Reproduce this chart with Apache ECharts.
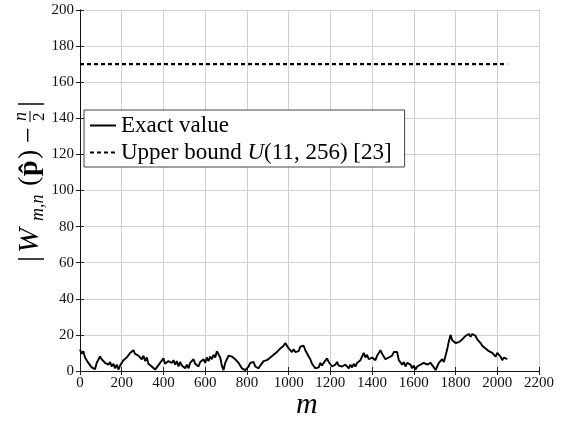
<!DOCTYPE html>
<html>
<head>
  <meta charset="utf-8">
  <title>Exact value vs upper bound</title>
  <style>
    html, body { margin: 0; padding: 0; background: #fff; }
    #chart { width: 578px; height: 422px; }
  </style>
</head>
<body>
  <div id="chart"></div>
  <script src="https://cdn.jsdelivr.net/npm/echarts@6/dist/echarts.min.js"></script>
  <script>
  // sampled every 8 steps of m, from 0 to 2048
  const mStep = 8;
  const exactValue = [
    12, 9.5, 11, 7.5, 8, 4.5, 5, 2, 2.5, 1, 4.5, 5, 8, 6.5, 7, 4.5,
    5, 3.5, 5, 2.5, 4, 1.5, 3.5, 0.8, 3, 3, 6, 5.5, 7.5, 8, 10, 9.5,
    11.5, 9.5, 10.5, 8.5, 9, 6.5, 8.5, 5.5, 7.5, 4, 5, 2.5, 2, 0.8, 2, 1,
    4.5, 5.5, 7, 4, 5, 5.5, 6.5, 4.5, 6, 3.5, 5.5, 2.5, 5, 3, 3.5, 1.5,
    3.5, 1.5, 4.5, 4, 6.5, 4, 3.5, 2.5, 5, 4, 6.5, 4.5, 7.5, 5.5, 8, 6.5,
    9, 7.5, 11, 11.5, 7.5, 3, 0.5, 4.5, 6.5, 8.5, 9.5, 8, 7.5, 6.5, 6, 4.5,
    3.5, 1.5, 1.5, 0.5, 1.5, 2.5, 4.5, 4, 5, 2.5, 3, 1.5, 3, 3.5, 5.5, 4.5,
    6, 5, 7.5, 6.5, 9, 8, 10.5, 10, 12.5, 12, 14, 15.5, 14.5, 12.5, 13, 10.5,
    12, 10.5, 11.5, 11, 13.5, 13, 14, 11.5, 10.5, 8, 6.5, 4, 3.5, 1.5, 2.5, 2,
    4.5, 3, 4.5, 5.5, 7, 5, 4.5, 2.5, 2.5, 3.5, 5, 3, 4, 2.5, 2.5, 3.5,
    3, 1.5, 3.5, 2, 4, 2.5, 4.5, 4.5, 6, 6.5, 10, 7.5, 9, 6.5, 7, 7.5,
    7.5, 6, 8.5, 9.5, 11.5, 9.5, 9, 6.5, 6.5, 7.5, 8.5, 8.5, 10.5, 10.5, 10.5, 6,
    5, 3.5, 5, 2.5, 4.5, 4.5, 3.5, 1.5, 3, 0.8, 2.5, 3.5, 3.5, 2.5, 4.5, 3.5,
    3.5, 2.5, 4.5, 3.5, 2, 0.5, 2.5, 4.5, 4.5, 6.5, 5, 8.5, 12, 16.5, 20, 17,
    16, 15.5, 16.5, 16, 15.5, 17.5, 18.5, 19.5, 19.5, 20.5, 19, 20.5, 19.5, 19.5, 17.5, 16.5,
    15.5, 14, 14.5, 12.5, 12.5, 11, 11.5, 10, 9.5, 8, 10, 9.5, 8, 6, 7.5, 8.5,
    6.5
  ];
  const boundValue = 170;
  const boundRange = [0, 2048];
  const xTicks = { min: 0, max: 2200, interval: 200 };
  const yTicks = { min: 0, max: 200, interval: 20 };

  const serif = '"Liberation Serif", "DejaVu Serif", serif';
  const exactData = exactValue.map((v, i) => [i * mStep, v]);
  const boundData = boundRange.map(m => [m, boundValue]);

  const tickStyle = { show: true, inside: true, length: 4, lineStyle: { color: '#222' } };
  const lab = { color: '#111', fontFamily: serif, fontSize: 15, formatter: v => String(v) };

  const chart = echarts.init(document.getElementById('chart'), null, { renderer: 'canvas' });
  chart.setOption({
    animation: false,
    backgroundColor: '#fff',
    grid: { left: 80, right: 39, top: 10, bottom: 51, show: false },
    xAxis: [{
      type: 'value', min: xTicks.min, max: xTicks.max, interval: xTicks.interval,
      axisLine: { show: true, onZero: false, lineStyle: { color: '#111', width: 1 } },
      axisTick: tickStyle,
      axisLabel: Object.assign({ margin: 5 }, lab),
      splitLine: { show: true, lineStyle: { color: '#cfcfcf', width: 1 } }
    }, {
      type: 'value', position: 'top', min: xTicks.min, max: xTicks.max, interval: xTicks.interval,
      axisLine: { show: true, lineStyle: { color: '#111', width: 1 } },
      axisTick: tickStyle, axisLabel: { show: false }, splitLine: { show: false }
    }],
    yAxis: [{
      type: 'value', min: yTicks.min, max: yTicks.max, interval: yTicks.interval,
      axisLine: { show: true, onZero: false, lineStyle: { color: '#111', width: 1 } },
      axisTick: tickStyle,
      axisLabel: Object.assign({ margin: 6 }, lab),
      splitLine: { show: true, lineStyle: { color: '#cfcfcf', width: 1 } }
    }, {
      type: 'value', position: 'right', min: yTicks.min, max: yTicks.max, interval: yTicks.interval,
      axisLine: { show: true, lineStyle: { color: '#111', width: 1 } },
      axisTick: tickStyle, axisLabel: { show: false }, splitLine: { show: false }
    }],
    legend: {
      orient: 'vertical',
      left: 84, top: 110,
      padding: [4, 13, 3, 5],
      itemGap: 4,
      itemWidth: 26, itemHeight: 14,
      itemStyle: { opacity: 0 },
      backgroundColor: '#fff',
      borderColor: '#444', borderWidth: 1,
      textStyle: {
        color: '#000', fontFamily: serif, fontSize: 23,
        rich: { i: { fontStyle: 'italic', fontFamily: serif, fontSize: 23, color: '#000' } }
      },
      formatter: name => name === 'Upper bound' ? 'Upper bound {i|U}(11, 256) [23]' : name,
      data: ['Exact value', 'Upper bound']
    },
    series: [{
      name: 'Exact value',
      type: 'line',
      data: exactData,
      symbol: 'none',
      lineStyle: { color: '#000', width: 1.9 },
      itemStyle: { color: '#000' }
    }, {
      name: 'Upper bound',
      type: 'line',
      data: boundData,
      symbol: 'none',
      lineStyle: { color: '#000', width: 2.4, type: [4, 3] },
      itemStyle: { color: '#000' }
    }],
    graphic: [{
      type: 'text',
      left: 296, top: 390,
      style: { text: 'm', fill: '#000', font: 'italic 30px ' + serif }
    }, {
      type: 'group',
      x: 30, y: 262,
      rotation: Math.PI / 2,
      children: [
        { type: 'text', x: 0, y: 0, style: { text: '|', fill: '#000', font: '30px ' + serif, verticalAlign: 'middle' } },
        { type: 'text', x: 9, y: 0, style: { text: 'W', fill: '#000', font: 'italic 30px ' + serif, verticalAlign: 'middle' } },
        { type: 'text', x: 41, y: 8, style: { text: 'm,n', fill: '#000', font: 'italic 18px ' + serif, verticalAlign: 'middle' } },
        { type: 'text', x: 76, y: 0, style: { text: '(', fill: '#000', font: '28px ' + serif, verticalAlign: 'middle' } },
        { type: 'text', x: 86, y: 0, style: { text: 'p\u0302', fill: '#000', font: 'bold 28px ' + serif, verticalAlign: 'middle' } },
        { type: 'text', x: 103, y: 0, style: { text: ')', fill: '#000', font: '28px ' + serif, verticalAlign: 'middle' } },
        { type: 'text', x: 119, y: 0, style: { text: '\u2212', fill: '#000', font: '28px ' + serif, verticalAlign: 'middle' } },
        { type: 'text', x: 141, y: -9, style: { text: 'n', fill: '#000', font: 'italic 18px ' + serif, verticalAlign: 'middle' } },
        { type: 'line', shape: { x1: 140, y1: 0, x2: 151, y2: 0 }, style: { stroke: '#000', lineWidth: 1 } },
        { type: 'text', x: 141, y: 10, style: { text: '2', fill: '#000', font: '17px ' + serif, verticalAlign: 'middle' } },
        { type: 'text', x: 155, y: 0, style: { text: '|', fill: '#000', font: '30px ' + serif, verticalAlign: 'middle' } }
      ]
    }]
  });
  </script>
</body>
</html>
